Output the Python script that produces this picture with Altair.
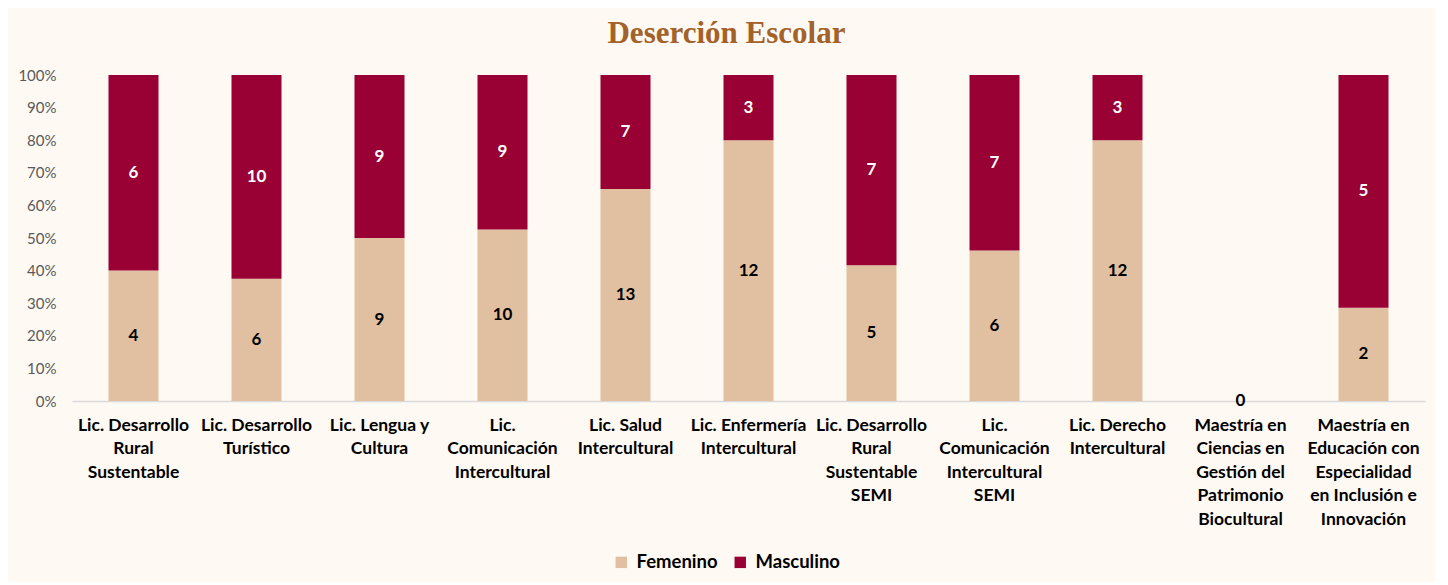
import altair as alt
import pandas as pd

categories = [
    "Lic. Desarrollo|Rural|Sustentable",
    "Lic. Desarrollo|Turístico",
    "Lic. Lengua y|Cultura",
    "Lic.|Comunicación|Intercultural",
    "Lic. Salud|Intercultural",
    "Lic. Enfermería|Intercultural",
    "Lic. Desarrollo|Rural|Sustentable|SEMI",
    "Lic.|Comunicación|Intercultural|SEMI",
    "Lic. Derecho|Intercultural",
    "Maestría en|Ciencias en|Gestión del|Patrimonio|Biocultural",
    "Maestría en|Educación con|Especialidad|en Inclusión e|Innovación",
]
femenino = [4, 6, 9, 10, 13, 12, 5, 6, 12, 0, 2]
masculino = [6, 10, 9, 9, 7, 3, 7, 7, 3, 0, 5]
series = ["Femenino", "Masculino"]
colors = ["#E0C0A0", "#990033"]
y_ticks = [0, 0.1, 0.2, 0.3, 0.4, 0.5, 0.6, 0.7, 0.8, 0.9, 1.0]

rows = []
for c, f, m in zip(categories, femenino, masculino):
    tot = f + m
    fp = f / tot if tot else 0.0
    mp = m / tot if tot else 0.0
    rows.append(dict(cat=c, serie="Femenino", value=f, start=0.0, end=fp,
                     mid=fp / 2, show=True))
    rows.append(dict(cat=c, serie="Masculino", value=m, start=fp, end=fp + mp,
                     mid=fp + mp / 2, show=tot > 0))
df = pd.DataFrame(rows)

FONT = "Lato"

x_axis = alt.Axis(
    labelExpr="split(datum.label, '|')", labelAngle=0, labelFont=FONT,
    labelFontSize=17.5, labelFontWeight="bold", labelColor="#000000",
    labelPadding=15, labelLineHeight=23.5, ticks=False, domainColor="#D9D9D9",
    domainWidth=1.5, grid=False, labelLimit=200, labelBaseline="top",
    labelOverlap=False,
)
y_axis = alt.Axis(
    format=".0%", values=y_ticks, grid=False, labelOverlap=False,
    domain=False, ticks=False, labelFont=FONT, labelFontSize=15,
    labelColor="#595959", labelPadding=16,
)
y_scale = alt.Scale(domain=[0, 1], nice=False)
x_scale = alt.Scale(paddingInner=0.6, paddingOuter=0.3)

bars = alt.Chart(df).mark_bar(size=50).encode(
    x=alt.X("cat:N", sort=categories, title=None, scale=x_scale, axis=x_axis),
    y=alt.Y("start:Q", title=None, scale=y_scale, axis=y_axis),
    y2="end:Q",
    color=alt.Color(
        "serie:N", title=None,
        scale=alt.Scale(domain=series, range=colors),
        legend=alt.Legend(
            orient="none", direction="horizontal", legendX=540, legendY=478,
            symbolType="square", symbolSize=130, symbolStrokeWidth=0,
            labelFont=FONT, labelFontSize=18.5, labelFontWeight="bold",
            labelColor="#000000", columnPadding=13, labelOffset=6,
        ),
    ),
)

text = alt.Chart(df).transform_filter("datum.show").mark_text(
    font=FONT, fontSize=17, fontWeight="bold", baseline="middle"
).encode(
    x=alt.X("cat:N", sort=categories, title=None, scale=x_scale, axis=x_axis),
    y=alt.Y("mid:Q", title=None, scale=y_scale, axis=y_axis),
    text=alt.Text("value:Q"),
    color=alt.Color("serie:N", scale=alt.Scale(domain=series, range=["#000000", "#FFFFFF"]),
                    legend=None),
)

chart = alt.layer(bars, text).resolve_scale(color="independent").properties(
    width=1353, height=326,
    title=alt.Title(
        "Deserción Escolar", font="Liberation Serif", fontSize=31,
        fontWeight="bold", color="#A3622A", offset=18, anchor="middle",
        frame="bounds", dx=5,
    ),
    background="#FEF9F3",
    padding={"left": 9, "top": 10, "right": 10, "bottom": 10},
).configure_view(stroke=None)

chart.save("out.html", embed_options={"renderer": "svg", "actions": False})
